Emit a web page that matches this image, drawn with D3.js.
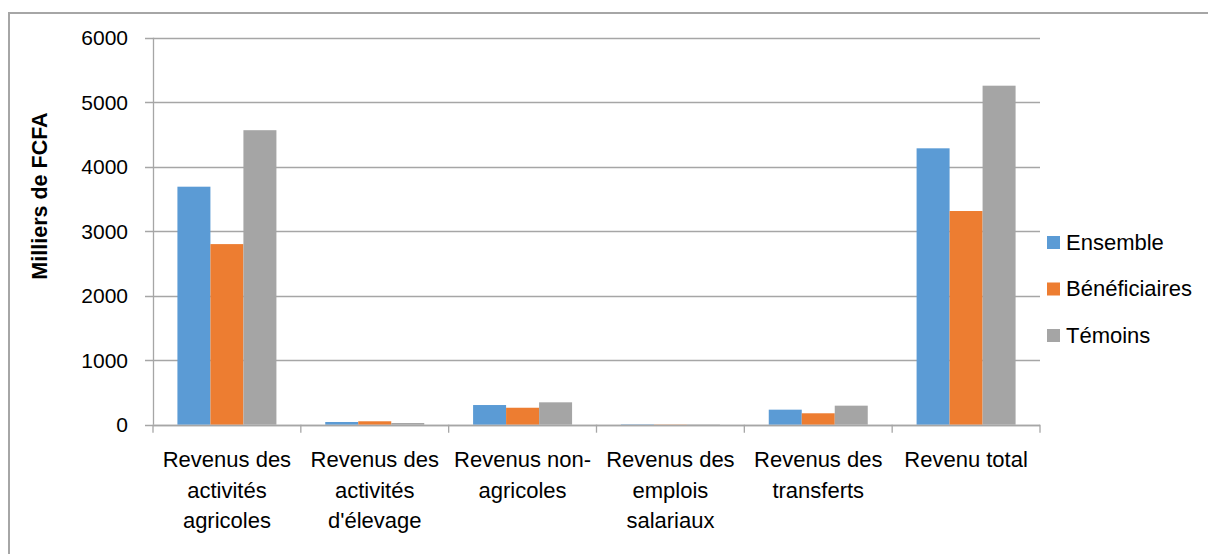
<!DOCTYPE html>
<html>
<head>
<meta charset="utf-8">
<script src="https://cdn.jsdelivr.net/npm/d3@7"></script>
<style>
  body { margin: 0; background: #fff; }
  svg { font-family: "Liberation Sans", Arial, sans-serif; }
</style>
</head>
<body>
<svg id="svg0" width="1208" height="554"></svg>
<script>
// chart values
var categories = [
    ['Revenus des', 'activités', 'agricoles'],
    ['Revenus des', 'activités', "d'élevage"],
    ['Revenus non-', 'agricoles'],
    ['Revenus des', 'emplois', 'salariaux'],
    ['Revenus des', 'transferts'],
    ['Revenu total']
];
var seriesNames = ['Ensemble', 'Bénéficiaires', 'Témoins'];
var ensemble = [3690, 42, 305, 6, 233, 4285];
var beneficiaires = [2800, 53, 263, 4, 177, 3313];
var temoins = [4566, 26, 347, 5, 295, 5256];
var yTicks = [0, 1000, 2000, 3000, 4000, 5000, 6000];
var colors = ['#5b9bd5', '#ed7d31', '#a5a5a5'];

var width = 1208;
var height = 554;

var svg = d3.select('#svg0');

// outer frame (runs off the right and bottom edge)
svg.append('rect')
    .attr('x', 9)
    .attr('y', 13)
    .attr('width', 1210)
    .attr('height', 560)
    .attr('fill', 'none')
    .attr('stroke', '#a6a6a6')
    .attr('stroke-width', 2);

var plotLeft = 153, plotRight = 1040, plotTop = 37.7, plotBottom = 424.7;

var y = d3.scaleLinear()
    .domain([0, 6000])
    .range([plotBottom, plotTop]);

var x0 = d3.scaleBand()
    .domain(d3.range(categories.length))
    .range([plotLeft, plotRight])
    .paddingInner(0)
    .paddingOuter(0);

// excel style gap width: bars fill ~2/3 of each category
var x1 = d3.scaleBand()
    .domain(d3.range(seriesNames.length))
    .range([0, x0.bandwidth()])
    .paddingOuter(0.74)
    .paddingInner(0);

// gridlines
svg.append('g')
    .selectAll('line')
    .data(yTicks)
    .enter()
    .append('line')
    .attr('x1', plotLeft - 8)
    .attr('x2', plotRight)
    .attr('y1', function (d) { return Math.round(y(d)) + 0.5; })
    .attr('y2', function (d) { return Math.round(y(d)) + 0.5; })
    .attr('stroke', '#a6a6a6')
    .attr('stroke-width', 1.3);

// y tick labels
svg.append('g')
    .selectAll('text')
    .data(yTicks)
    .enter()
    .append('text')
    .attr('x', 128)
    .attr('y', function (d) { return y(d); })
    .attr('dy', '0.36em')
    .attr('text-anchor', 'end')
    .attr('font-size', 21)
    .attr('fill', '#000')
    .text(function (d) { return d; });

// bars
var allSeries = [ensemble, beneficiaires, temoins];
var groups = svg.append('g')
    .selectAll('g')
    .data(categories)
    .enter()
    .append('g')
    .attr('transform', function (d, i) { return 'translate(' + x0(i) + ',0)'; });

groups.selectAll('rect')
    .data(function (d, i) {
        return allSeries.map(function (s, j) { return {s: j, v: s[i]}; });
    })
    .enter()
    .append('rect')
    .attr('x', function (d) { return x1(d.s); })
    .attr('width', x1.bandwidth())
    .attr('y', function (d) { return y(d.v); })
    .attr('height', function (d) { return plotBottom - y(d.v); })
    .attr('fill', function (d) { return colors[d.s]; });

// y axis line
svg.append('line')
    .attr('x1', plotLeft + 0.5)
    .attr('x2', plotLeft + 0.5)
    .attr('y1', plotTop)
    .attr('y2', plotBottom)
    .attr('stroke', '#a6a6a6')
    .attr('stroke-width', 1.3);

// x axis line and category ticks
svg.append('line')
    .attr('x1', plotLeft)
    .attr('x2', plotRight)
    .attr('y1', Math.round(plotBottom) + 0.5)
    .attr('y2', Math.round(plotBottom) + 0.5)
    .attr('stroke', '#a6a6a6')
    .attr('stroke-width', 1.3);

svg.append('g')
    .selectAll('line')
    .data(d3.range(categories.length + 1))
    .enter()
    .append('line')
    .attr('x1', function (d) { return plotLeft + d * x0.step(); })
    .attr('x2', function (d) { return plotLeft + d * x0.step(); })
    .attr('y1', plotBottom)
    .attr('y2', plotBottom + 8)
    .attr('stroke', '#a6a6a6')
    .attr('stroke-width', 1.3);

// category labels
var catLabels = svg.append('g')
    .selectAll('text')
    .data(categories)
    .enter()
    .append('text')
    .attr('x', function (d, i) { return x0(i) + x0.bandwidth() / 2; })
    .attr('y', 467)
    .attr('text-anchor', 'middle')
    .attr('font-size', 22)
    .attr('fill', '#000');

catLabels.selectAll('tspan')
    .data(function (d) { return d; })
    .enter()
    .append('tspan')
    .attr('x', function () { return d3.select(this.parentNode).attr('x'); })
    .attr('dy', function (d, i) { return i === 0 ? 0 : 30.5; })
    .text(function (d) { return d; });

// y axis title
svg.append('text')
    .attr('transform', 'translate(47,196) rotate(-90)')
    .attr('text-anchor', 'middle')
    .attr('font-size', 21.5)
    .attr('font-weight', 'bold')
    .attr('fill', '#000')
    .text('Milliers de FCFA');

// legend
var legend = svg.append('g')
    .selectAll('g')
    .data(seriesNames)
    .enter()
    .append('g')
    .attr('transform', function (d, i) { return 'translate(1047,' + (242 + i * 46.5) + ')'; });

legend.append('rect')
    .attr('x', 0)
    .attr('y', -6)
    .attr('width', 13)
    .attr('height', 13)
    .attr('fill', function (d, i) { return colors[i]; });

legend.append('text')
    .attr('x', 19)
    .attr('y', 0)
    .attr('dy', '0.36em')
    .attr('font-size', 22)
    .attr('fill', '#000')
    .text(function (d) { return d; });
</script>
</body>
</html>
